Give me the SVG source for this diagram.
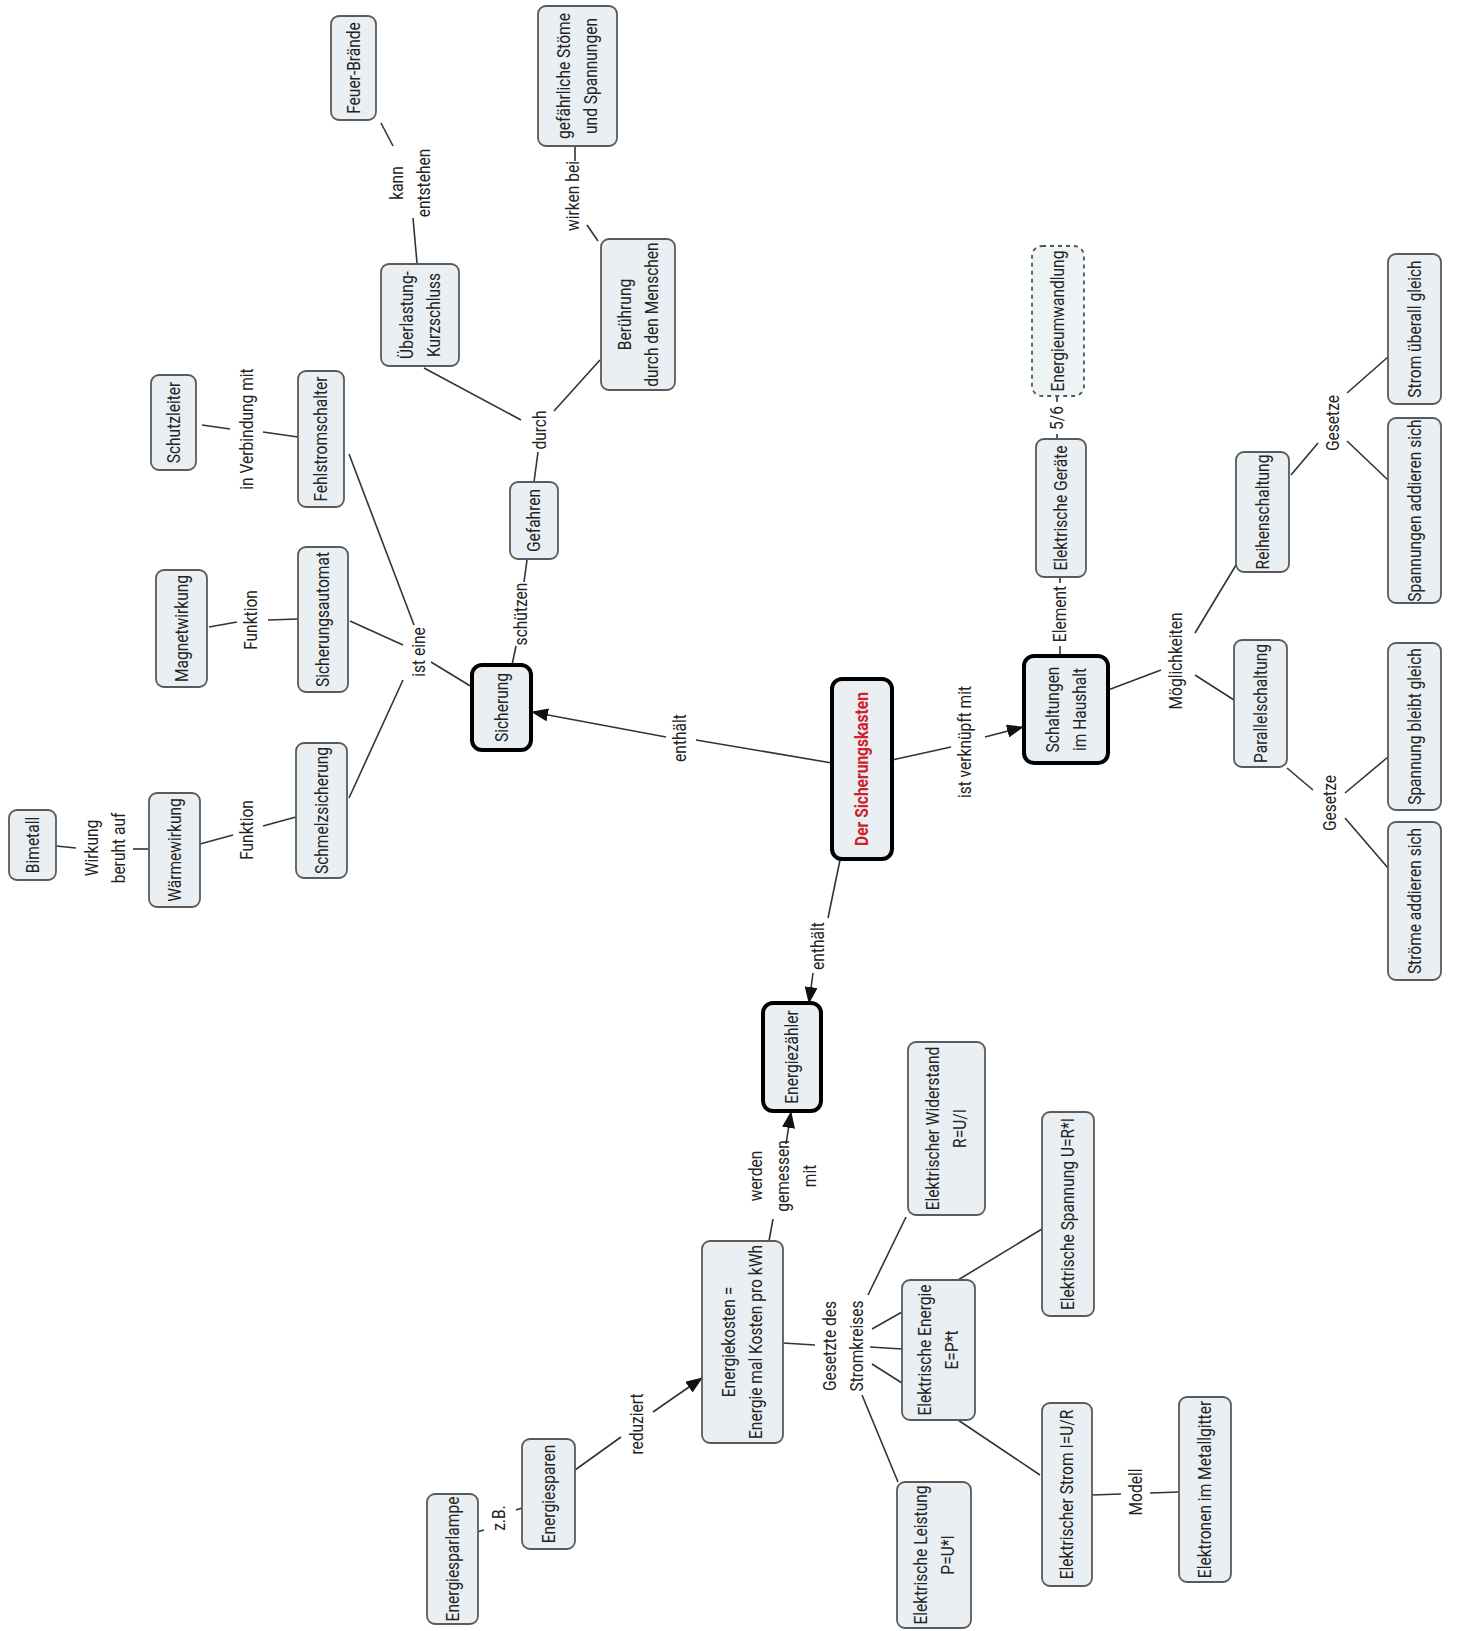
<svg xmlns="http://www.w3.org/2000/svg" width="1457" height="1631" viewBox="0 0 1457 1631">
<style>
.n rect{fill:#e9eff2;stroke:#5a5a5a;stroke-width:1.8}
.b rect{fill:#e9eff2;stroke:#000;stroke-width:4}
.d rect{fill:#eef3f5;stroke:#555;stroke-width:1.8;stroke-dasharray:4 4}
text{font-family:Roboto,"Liberation Sans",sans-serif;font-size:18.5px;fill:#222;text-anchor:middle}
.red{fill:#d0202a;font-weight:bold}
#connectors line{stroke:#333;stroke-width:1.6}
</style>
<defs>
<marker id="arr" markerWidth="17" markerHeight="13" refX="16" refY="6.5" orient="auto" markerUnits="userSpaceOnUse"><path d="M0,0 L17,6.5 L0,13 z" fill="#111"/></marker>
</defs>
<rect width="1457" height="1631" fill="#fff"/>
<g id="connectors">
<line x1="381" y1="123" x2="393" y2="146"/>
<line x1="413" y1="218" x2="417" y2="263"/>
<line x1="575" y1="146" x2="575" y2="161"/>
<line x1="587" y1="225" x2="598" y2="241"/>
<line x1="424" y1="368" x2="521" y2="420"/>
<line x1="600" y1="360" x2="554" y2="411"/>
<line x1="538" y1="452" x2="534" y2="482"/>
<line x1="527" y1="560" x2="524" y2="582"/>
<line x1="516" y1="646" x2="512" y2="665"/>
<line x1="202" y1="425" x2="230" y2="429"/>
<line x1="263" y1="432" x2="298" y2="437"/>
<line x1="349" y1="454" x2="414" y2="625"/>
<line x1="209" y1="627" x2="237" y2="622"/>
<line x1="268" y1="620" x2="298" y2="619"/>
<line x1="350" y1="621" x2="403" y2="645"/>
<line x1="431" y1="662" x2="472" y2="687"/>
<line x1="403" y1="680" x2="349" y2="798"/>
<line x1="296" y1="817" x2="263" y2="826"/>
<line x1="233" y1="835" x2="200" y2="844"/>
<line x1="149" y1="849" x2="133" y2="849"/>
<line x1="76" y1="848" x2="56" y2="846"/>
<line x1="832" y1="763" x2="696" y2="740"/>
<line x1="666" y1="737" x2="532" y2="712" marker-end="url(#arr)"/>
<line x1="892" y1="760" x2="951" y2="747"/>
<line x1="985" y1="737" x2="1023" y2="727" marker-end="url(#arr)"/>
<line x1="840" y1="860" x2="828" y2="918"/>
<line x1="813" y1="973" x2="809" y2="1003" marker-end="url(#arr)"/>
<line x1="1060" y1="656" x2="1060" y2="646"/>
<line x1="1060" y1="583" x2="1060" y2="577"/>
<line x1="1057" y1="441" x2="1057" y2="434"/>
<line x1="1057" y1="402" x2="1057" y2="396"/>
<line x1="1108" y1="690" x2="1161" y2="670"/>
<line x1="1195" y1="633" x2="1236" y2="565"/>
<line x1="1195" y1="675" x2="1234" y2="700"/>
<line x1="1291" y1="475" x2="1318" y2="443"/>
<line x1="1347" y1="393" x2="1388" y2="357"/>
<line x1="1347" y1="441" x2="1388" y2="480"/>
<line x1="1287" y1="768" x2="1313" y2="790"/>
<line x1="1345" y1="793" x2="1388" y2="757"/>
<line x1="1345" y1="818" x2="1388" y2="868"/>
<line x1="769" y1="1241" x2="773" y2="1219"/>
<line x1="786" y1="1144" x2="791" y2="1112" marker-end="url(#arr)"/>
<line x1="783" y1="1343" x2="815" y2="1345"/>
<line x1="868" y1="1295" x2="906" y2="1217"/>
<line x1="872" y1="1329" x2="902" y2="1312"/>
<line x1="870" y1="1347" x2="902" y2="1349"/>
<line x1="872" y1="1364" x2="902" y2="1383"/>
<line x1="862" y1="1395" x2="898" y2="1482"/>
<line x1="958" y1="1280" x2="1042" y2="1229"/>
<line x1="958" y1="1420" x2="1040" y2="1475"/>
<line x1="1092" y1="1495" x2="1121" y2="1494"/>
<line x1="1150" y1="1493" x2="1179" y2="1492"/>
<line x1="575" y1="1470" x2="621" y2="1437"/>
<line x1="653" y1="1412" x2="702" y2="1378" marker-end="url(#arr)"/>
<line x1="477" y1="1532" x2="484" y2="1530"/>
<line x1="516" y1="1510" x2="522" y2="1508"/>
</g>
<g id="labels">
<text transform="translate(410,183) rotate(-90) scale(0.84,1)"><tspan x="0" y="-7.2">kann</tspan><tspan x="0" y="19.8">entstehen</tspan></text>
<text transform="translate(573,196) rotate(-90) scale(0.84,1)" y="6.3">wirken bei</text>
<text transform="translate(247,429) rotate(-90) scale(0.84,1)" y="6.3">in Verbindung mit</text>
<text transform="translate(540,430) rotate(-90) scale(0.84,1)" y="6.3">durch</text>
<text transform="translate(521,614) rotate(-90) scale(0.84,1)" y="6.3">schützen</text>
<text transform="translate(251,620) rotate(-90) scale(0.84,1)" y="6.3">Funktion</text>
<text transform="translate(419,652) rotate(-90) scale(0.84,1)" y="6.3">ist eine</text>
<text transform="translate(247,830) rotate(-90) scale(0.84,1)" y="6.3">Funktion</text>
<text transform="translate(105,848) rotate(-90) scale(0.84,1)"><tspan x="0" y="-7.2">Wirkung</tspan><tspan x="0" y="19.8">beruht auf</tspan></text>
<text transform="translate(680,738) rotate(-90) scale(0.84,1)" y="6.3">enthält</text>
<text transform="translate(1060,614) rotate(-90) scale(0.84,1)" y="6.3">Element</text>
<text transform="translate(1057,418) rotate(-90) scale(0.84,1)" y="6.3">5/6</text>
<text transform="translate(1176,661) rotate(-90) scale(0.84,1)" y="6.3">Möglichkeiten</text>
<text transform="translate(1333,423) rotate(-90) scale(0.84,1)" y="6.3">Gesetze</text>
<text transform="translate(1330,803) rotate(-90) scale(0.84,1)" y="6.3">Gesetze</text>
<text transform="translate(965,742) rotate(-90) scale(0.84,1)" y="6.3">ist verknüpft mit</text>
<text transform="translate(818,946) rotate(-90) scale(0.84,1)" y="6.3">enthält</text>
<text transform="translate(783,1176) rotate(-90) scale(0.84,1)"><tspan x="0" y="-20.7">werden</tspan><tspan x="0" y="6.3">gemessen</tspan><tspan x="0" y="33.3">mit</tspan></text>
<text transform="translate(843.5,1346) rotate(-90) scale(0.84,1)"><tspan x="0" y="-7.2">Gesetzte des</tspan><tspan x="0" y="19.8">Stromkreises</tspan></text>
<text transform="translate(637,1424) rotate(-90) scale(0.84,1)" y="6.3">reduziert</text>
<text transform="translate(499,1518) rotate(-90) scale(0.84,1)" y="6.3">z.B.</text>
<text transform="translate(1136,1492) rotate(-90) scale(0.84,1)" y="6.3">Modell</text>
</g>
<g id="n-feuer" class="n"><rect x="331" y="16" width="45" height="104" rx="8"/><text transform="translate(353.5,68) rotate(-90) scale(0.84,1)" y="6.3">Feuer-Brände</text></g>
<g id="n-gefaehrlich" class="n"><rect x="538" y="6" width="79" height="140" rx="8"/><text transform="translate(577.5,76) rotate(-90) scale(0.84,1)"><tspan x="0" y="-7.2">gefährliche Stöme</tspan><tspan x="0" y="19.8">und Spannungen</tspan></text></g>
<g id="n-ueberlastung" class="n"><rect x="381" y="264" width="78" height="102" rx="8"/><text transform="translate(420,315) rotate(-90) scale(0.84,1)"><tspan x="0" y="-7.2">Überlastung-</tspan><tspan x="0" y="19.8">Kurzschluss</tspan></text></g>
<g id="n-beruehrung" class="n"><rect x="601" y="239" width="74" height="151" rx="8"/><text transform="translate(638,314.5) rotate(-90) scale(0.84,1)"><tspan x="0" y="-7.2">Berührung</tspan><tspan x="0" y="19.8">durch den Menschen</tspan></text></g>
<g id="n-schutzleiter" class="n"><rect x="151" y="375" width="45" height="95" rx="8"/><text transform="translate(173.5,422.5) rotate(-90) scale(0.84,1)" y="6.3">Schutzleiter</text></g>
<g id="n-fehlstrom" class="n"><rect x="298" y="371" width="46" height="136" rx="8"/><text transform="translate(321,439) rotate(-90) scale(0.84,1)" y="6.3">Fehlstromschalter</text></g>
<g id="n-gefahren" class="n"><rect x="510" y="482" width="48" height="77" rx="8"/><text transform="translate(534,520.5) rotate(-90) scale(0.84,1)" y="6.3">Gefahren</text></g>
<g id="n-geraete" class="n"><rect x="1036" y="439" width="50" height="138" rx="8"/><text transform="translate(1061,508) rotate(-90) scale(0.84,1)" y="6.3">Elektrische Geräte</text></g>
<g id="n-umwandlung" class="d"><rect x="1032" y="246" width="52" height="150" rx="10"/><text transform="translate(1058,321) rotate(-90) scale(0.84,1)" y="6.3">Energieumwandlung</text></g>
<g id="n-strom-ueberall" class="n"><rect x="1388" y="254" width="53" height="150" rx="8"/><text transform="translate(1414.5,329) rotate(-90) scale(0.84,1)" y="6.3">Strom überall gleich</text></g>
<g id="n-spannungen-add" class="n"><rect x="1388" y="418" width="53" height="185" rx="8"/><text transform="translate(1414.5,510.5) rotate(-90) scale(0.84,1)" y="6.3">Spannungen addieren sich</text></g>
<g id="n-reihen" class="n"><rect x="1236" y="452" width="53" height="120" rx="8"/><text transform="translate(1262.5,512) rotate(-90) scale(0.84,1)" y="6.3">Reihenschaltung</text></g>
<g id="n-magnet" class="n"><rect x="156" y="570" width="51" height="117" rx="8"/><text transform="translate(181.5,628.5) rotate(-90) scale(0.84,1)" y="6.3">Magnetwirkung</text></g>
<g id="n-automat" class="n"><rect x="298" y="547" width="50" height="145" rx="8"/><text transform="translate(323,619.5) rotate(-90) scale(0.84,1)" y="6.3">Sicherungsautomat</text></g>
<g id="n-sicherung" class="b"><rect x="472" y="665" width="59" height="85" rx="10"/><text transform="translate(501.5,707.5) rotate(-90) scale(0.84,1)" y="6.3">Sicherung</text></g>
<g id="n-kasten" class="b"><rect x="832" y="679" width="60" height="180" rx="10"/><text class="red" transform="translate(862,769) rotate(-90) scale(0.84,1)" y="6.3">Der Sicherungskasten</text></g>
<g id="n-schaltungen" class="b"><rect x="1024" y="656" width="84" height="107" rx="10"/><text transform="translate(1066,709.5) rotate(-90) scale(0.84,1)"><tspan x="0" y="-7.2">Schaltungen</tspan><tspan x="0" y="19.8">im Haushalt</tspan></text></g>
<g id="n-parallel" class="n"><rect x="1234" y="640" width="53" height="127" rx="8"/><text transform="translate(1260.5,703.5) rotate(-90) scale(0.84,1)" y="6.3">Parallelschaltung</text></g>
<g id="n-sp-bleibt" class="n"><rect x="1388" y="643" width="53" height="167" rx="8"/><text transform="translate(1414.5,726.5) rotate(-90) scale(0.84,1)" y="6.3">Spannung bleibt gleich</text></g>
<g id="n-stroeme" class="n"><rect x="1388" y="822" width="53" height="158" rx="8"/><text transform="translate(1414.5,901) rotate(-90) scale(0.84,1)" y="6.3">Ströme addieren sich</text></g>
<g id="n-schmelz" class="n"><rect x="296" y="743" width="51" height="135" rx="8"/><text transform="translate(321.5,810.5) rotate(-90) scale(0.84,1)" y="6.3">Schmelzsicherung</text></g>
<g id="n-waerme" class="n"><rect x="149" y="793" width="51" height="114" rx="8"/><text transform="translate(174.5,850) rotate(-90) scale(0.84,1)" y="6.3">Wärmewirkung</text></g>
<g id="n-bimetall" class="n"><rect x="9" y="810" width="47" height="70" rx="8"/><text transform="translate(32.5,845) rotate(-90) scale(0.84,1)" y="6.3">Bimetall</text></g>
<g id="n-zaehler" class="b"><rect x="763" y="1003" width="58" height="108" rx="10"/><text transform="translate(792,1057) rotate(-90) scale(0.84,1)" y="6.3">Energiezähler</text></g>
<g id="n-widerstand" class="n"><rect x="908" y="1042" width="77" height="173" rx="8"/><text transform="translate(946.5,1128.5) rotate(-90) scale(0.84,1)"><tspan x="0" y="-7.2">Elektrischer Widerstand</tspan><tspan x="0" y="19.8">R=U/I</tspan></text></g>
<g id="n-spannung" class="n"><rect x="1042" y="1112" width="52" height="204" rx="8"/><text transform="translate(1068,1214) rotate(-90) scale(0.84,1)" y="6.3">Elektrische Spannung U=R*I</text></g>
<g id="n-kosten" class="n"><rect x="702" y="1241" width="81" height="202" rx="8"/><text transform="translate(742.5,1342) rotate(-90) scale(0.84,1)"><tspan x="0" y="-7.2">Energiekosten =</tspan><tspan x="0" y="19.8">Energie mal Kosten pro kWh</tspan></text></g>
<g id="n-el-energie" class="n"><rect x="902" y="1280" width="73" height="140" rx="8"/><text transform="translate(938.5,1350) rotate(-90) scale(0.84,1)"><tspan x="0" y="-7.2">Elektrische Energie</tspan><tspan x="0" y="19.8">E=P*t</tspan></text></g>
<g id="n-sparen" class="n"><rect x="522" y="1439" width="53" height="110" rx="8"/><text transform="translate(548.5,1494) rotate(-90) scale(0.84,1)" y="6.3">Energiesparen</text></g>
<g id="n-lampe" class="n"><rect x="427" y="1494" width="51" height="130" rx="8"/><text transform="translate(452.5,1559) rotate(-90) scale(0.84,1)" y="6.3">Energiesparlampe</text></g>
<g id="n-leistung" class="n"><rect x="897" y="1482" width="74" height="146" rx="8"/><text transform="translate(934,1555) rotate(-90) scale(0.84,1)"><tspan x="0" y="-7.2">Elektrische Leistung</tspan><tspan x="0" y="19.8">P=U*I</tspan></text></g>
<g id="n-strom" class="n"><rect x="1042" y="1403" width="50" height="183" rx="8"/><text transform="translate(1067,1494.5) rotate(-90) scale(0.84,1)" y="6.3">Elektrischer Strom I=U/R</text></g>
<g id="n-elektronen" class="n"><rect x="1179" y="1397" width="52" height="185" rx="8"/><text transform="translate(1205,1489.5) rotate(-90) scale(0.84,1)" y="6.3">Elektronen im Metallgitter</text></g>
</svg>
